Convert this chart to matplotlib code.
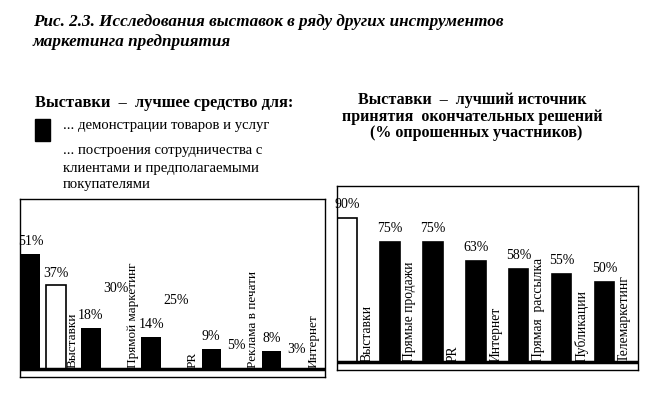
import matplotlib.pyplot as plt
import numpy as np

plt.rcParams['font.family'] = ['Liberation Serif', 'DejaVu Serif']

# Левая диаграмма: выставки - лучшее средство для...
left_cats = ['Выставки', 'Прямой маркетинг', 'PR', 'Реклама в печати', 'Интернет']
left_demo = [51, 18, 14, 9, 8]       # демонстрации товаров и услуг
left_coop = [37, 30, 25, 5, 3]       # построения сотрудничества
# Правая диаграмма: лучший источник принятия окончательных решений
right_cats = ['Выставки', 'Прямые продажи', 'PR', 'Интернет',
              'Прямая  рассылка', 'Публикации', 'Телемаркетинг']
right_vals = [90, 75, 75, 63, 58, 55, 50]

fig = plt.figure(figsize=(6.6, 4.02), dpi=100)

# заголовок рисунка
fig.text(0.05, 0.945, 'Рис. 2.3. Исследования выставок в ряду других инструментов',
         fontsize=12.3, fontweight='bold', style='italic', va='center')
fig.text(0.05, 0.895, 'маркетинга предприятия',
         fontsize=12.3, fontweight='bold', style='italic', va='center')

# подписи над левой диаграммой
fig.text(0.053, 0.744, 'Выставки  –  лучшее средство для:', fontsize=11.8,
         fontweight='bold', va='center')
fig.patches.append(plt.Rectangle((0.053, 0.647), 0.023, 0.055, color='black',
                                 transform=fig.transFigure, figure=fig))
fig.text(0.095, 0.689, '... демонстрации товаров и услуг', fontsize=10.6, va='center')
fig.text(0.095, 0.626, '... построения сотрудничества с', fontsize=10.6, va='center')
fig.text(0.095, 0.582, 'клиентами и предполагаемыми', fontsize=10.6, va='center')
fig.text(0.095, 0.540, 'покупателями', fontsize=10.6, va='center')

# подписи над правой диаграммой
fig.text(0.716, 0.751, 'Выставки  –  лучший источник', fontsize=11.5,
         fontweight='bold', ha='center', va='center')
fig.text(0.716, 0.709, 'принятия  окончательных решений', fontsize=11.5,
         fontweight='bold', ha='center', va='center')
fig.text(0.722, 0.669, '(% опрошенных участников)', fontsize=11.5,
         fontweight='bold', ha='center', va='center')

# ---- левая ----
ax1 = fig.add_axes([0.0303, 0.0597, 0.462, 0.443])
x = np.arange(len(left_cats))
w = 0.32
ax1.bar(x, left_demo, width=w, align='edge', color='black')
edges = ['black'] + ['white'] * (len(left_cats) - 1)
ax1.bar(x + 0.42, left_coop, width=w, align='edge', color='white',
        edgecolor=edges, linewidth=1.2)
for i in range(len(left_cats)):
    ax1.annotate(f'{left_demo[i]}%', (x[i] + w / 2, left_demo[i]), xytext=(0, 5),
                 textcoords='offset points', ha='center', va='bottom', fontsize=10)
    ax1.annotate(f'{left_coop[i]}%', (x[i] + 0.42 + w / 2, left_coop[i]), xytext=(0, 5),
                 textcoords='offset points', ha='center', va='bottom', fontsize=10)
    ax1.text(x[i] + 0.855, 0.8, left_cats[i], rotation=90, ha='center', va='bottom',
             fontsize=9.5)
ax1.axhline(0, color='black', linewidth=2.5)
ax1.set_xlim(-0.02, 5.05)
ax1.set_ylim(-3.6, 75.4)
ax1.set_xticks([])
ax1.set_yticks([])
for s in ax1.spines.values():
    s.set_linewidth(1)

# ---- правая ----
ax2 = fig.add_axes([0.5106, 0.077, 0.456, 0.458])
xr = np.arange(len(right_cats))
wr = 0.45
colors = ['white'] + ['black'] * (len(right_cats) - 1)
ax2.bar(xr, right_vals, width=wr, align='edge', color=colors,
        edgecolor='black', linewidth=1.2)
for i in range(len(right_cats)):
    ax2.annotate(f'{right_vals[i]}%', (xr[i] + wr / 2, right_vals[i]), xytext=(0, 6),
                 textcoords='offset points', ha='center', va='bottom', fontsize=10)
    ax2.text(xr[i] + 0.69, 0.8, right_cats[i], rotation=90, ha='center', va='bottom',
             fontsize=9.8)
ax2.axhline(0, color='black', linewidth=2.5)
ax2.set_xlim(-0.01, 7.0)
ax2.set_ylim(-5, 110)
ax2.set_xticks([])
ax2.set_yticks([])
for s in ax2.spines.values():
    s.set_linewidth(1)

fig.savefig('out.png', dpi=100)
